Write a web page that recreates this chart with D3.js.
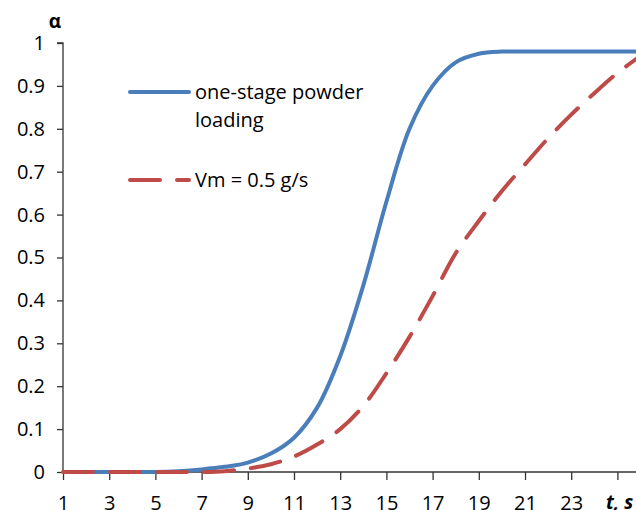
<!DOCTYPE html>
<html><head><meta charset="utf-8">
<script src="https://cdn.jsdelivr.net/npm/d3@7"></script>
<style>
html,body{margin:0;padding:0;background:#fff;overflow:hidden}
svg{display:block}
text{font-family:"Open Sans",sans-serif;fill:#000}
</style></head>
<body>
<svg id="c" width="636" height="510"></svg>
<script>
const times = [1,2,3,4,5,6,7,8,9,10,11,12,13,14,15,16,17,18,19,20,21,22,23,24,25,26];
const oneStage = [0,0,0,0,0,0.002,0.006,0.012,0.022,0.043,0.08,0.15,0.27,0.435,0.63,0.8,0.9,0.955,0.975,0.98,0.98,0.98,0.98,0.98,0.98,0.98];
const vm05 = [0,0,0,0,0,0,0,0.002,0.008,0.018,0.036,0.064,0.1,0.154,0.23,0.315,0.41,0.51,0.585,0.655,0.717,0.778,0.833,0.883,0.93,0.97];
const xTicks = [1,3,5,7,9,11,13,15,17,19,21,23,25];
const yTicks = [0,0.1,0.2,0.3,0.4,0.5,0.6,0.7,0.8,0.9,1];
const seriesNames = ["one-stage powder|loading","Vm = 0.5 g/s"];

const svg = d3.select("#c");
const x = d3.scaleLinear().domain([1,25]).range([63,617.4]);
const y = d3.scaleLinear().domain([0,1]).range([472,43]);

// y axis
const yAxis = d3.axisLeft(y).tickValues(yTicks).tickSize(6).tickPadding(12)
  .tickFormat(d => d3.format("")(+d.toFixed(1)));
const gy = svg.append("g").attr("transform","translate(63,0)").call(yAxis);
gy.select(".domain").attr("stroke","#333").attr("stroke-width",1.3).attr("d","M-6,43H0V472");
gy.selectAll(".tick line").attr("stroke","#333").attr("stroke-width",1.3);
gy.selectAll(".tick text").style("font-size","20px").attr("fill","#000");

// x axis
const xAxis = d3.axisBottom(x).tickValues(xTicks).tickSize(8).tickPadding(16)
  .tickFormat(d => d === 25 ? "" : d);
const gx = svg.append("g").attr("transform","translate(0,472)").call(xAxis);
gx.select(".domain").attr("stroke","#333").attr("stroke-width",1.3).attr("d","M63,0H640");
gx.selectAll(".tick line").attr("stroke","#333").attr("stroke-width",1.3);
gx.selectAll(".tick text").style("font-size","20px").attr("fill","#000");

// axis titles
svg.append("text").attr("x",55).attr("y",28).attr("text-anchor","middle")
  .style("font-size","19px").style("font-weight","bold").text("α");
svg.append("text").attr("x",606).attr("y",509)
  .style("font-size","19px").style("font-weight","bold").style("font-style","italic").text("t, s");

const line = d3.line().x((d,i)=>x(times[i])).y(d=>y(d)).curve(d3.curveCatmullRom.alpha(0.5));

svg.append("path").datum(oneStage).attr("d",line).attr("fill","none")
  .attr("stroke","#4a7ebb").attr("stroke-width",4).attr("stroke-linejoin","round");
svg.append("path").datum(vm05).attr("d",line).attr("fill","none")
  .attr("stroke","#be4b48").attr("stroke-width",4).attr("stroke-dasharray","30,17")
  .attr("stroke-linecap","round");

// legend
const lg = svg.append("g");
lg.append("line").attr("x1",130).attr("x2",189).attr("y1",92).attr("y2",92)
  .attr("stroke","#4a7ebb").attr("stroke-width",4).attr("stroke-linecap","round");
const t1 = lg.append("text").attr("x",195).attr("y",99).style("font-size","20px");
seriesNames[0].split("|").forEach((s,i)=>{
  t1.append("tspan").attr("x",195).attr("dy", i===0?0:28).text(s);
});
lg.append("line").attr("x1",130).attr("x2",189).attr("y1",180).attr("y2",180)
  .attr("stroke","#be4b48").attr("stroke-width",4).attr("stroke-dasharray","30,17")
  .attr("stroke-linecap","round");
lg.append("text").attr("x",195).attr("y",187).style("font-size","20px").text(seriesNames[1]);
</script>
</body></html>
